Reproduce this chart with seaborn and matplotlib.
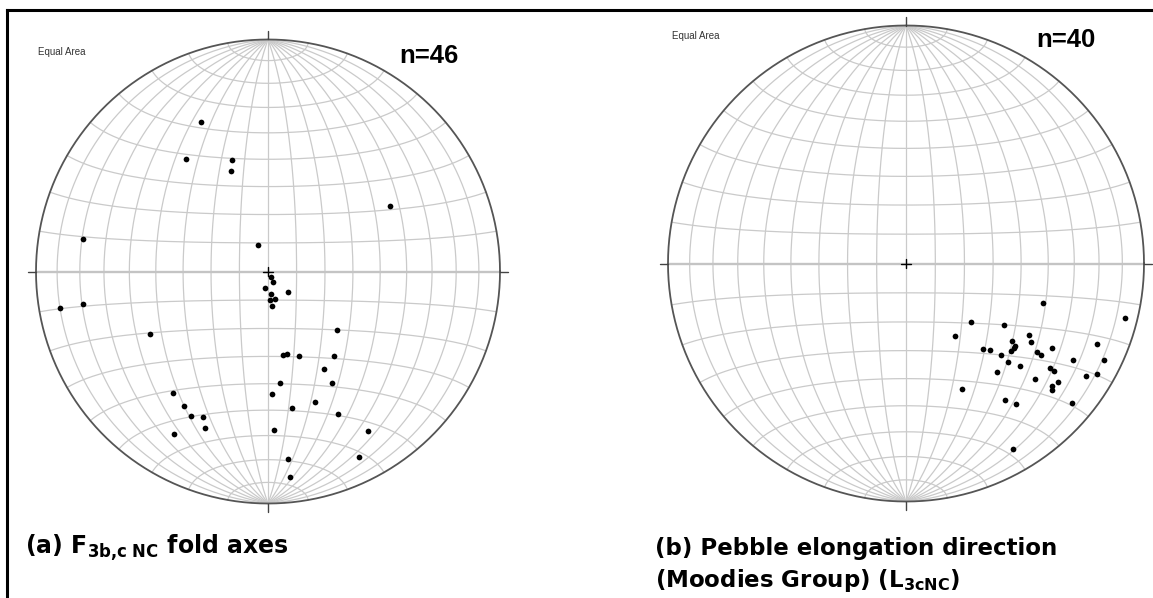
import numpy as np
import pandas as pd
import matplotlib
matplotlib.use("Agg")
import matplotlib.pyplot as plt
import seaborn as sns

# ---------------- data (trend / plunge, degrees) ----------------
fold_trend = [336, 324, 342, 340, 62, 280, 340, 151, 154, 190, 136, 173, 165, 175,
              173, 260, 260, 242, 130, 170, 167, 160, 142, 150, 174, 150, 218, 178,
              212, 170, 160, 208, 204, 154, 202, 210, 178, 148, 154, 174, 174]
fold_plunge = [30, 40, 48, 52, 40, 20, 80, 88, 86, 84, 80, 82, 80, 80,
               78, 10, 20, 42, 58, 60, 60, 58, 52, 50, 50, 44, 34, 46,
               32, 40, 40, 30, 32, 32, 28, 20, 32, 20, 12, 20, 12]

pebble_trend = [106, 104, 132, 122, 146, 120, 122, 126, 127, 113, 120, 138, 136, 128,
                130, 134, 124, 124, 120, 116, 134, 132, 126, 126, 140, 122, 120, 132,
                128, 130, 131, 156, 144, 142, 130, 150]
pebble_plunge = [40, 6, 60, 50, 60, 40, 38, 44, 42, 14, 30, 50, 48, 42,
                 42, 44, 34, 32, 20, 8, 40, 36, 26, 24, 40, 12, 8, 28,
                 20, 21, 20, 42, 30, 26, 10, 11]

count_labels = ["n=46", "n=40"]
net_label = "Equal Area"
caption_a = r"(a) F$_{\mathbf{3b{,}c\ NC}}$ fold axes"
caption_b1 = "(b) Pebble elongation direction"
caption_b2 = r"(Moodies Group) (L$_{\mathbf{3cNC}}$)"

# ---------------- style ----------------
sns.set_theme(style="white")
plt.rcParams['font.family'] = ['Liberation Sans', 'DejaVu Sans']
plt.rcParams['mathtext.fontset'] = 'dejavusans'
plt.rcParams['text.color'] = 'black'

W, H = 1153, 598
fig = plt.figure(figsize=(W / 100, H / 100), dpi=100)
fig.patch.set_facecolor('white')


def px(x, y):
    return x / W, 1 - y / H


GRID_C = '#cacaca'


def lambert(lon, lat):
    lon = np.radians(lon)
    lat = np.radians(lat)
    k = np.sqrt(2.0 / (1.0 + np.cos(lat) * np.cos(lon)))
    return k * np.cos(lat) * np.sin(lon) / np.sqrt(2), k * np.sin(lat) / np.sqrt(2)


def line_xy(trend, plunge):
    t = np.radians(np.asarray(trend, float))
    p = np.radians(np.asarray(plunge, float))
    r = np.sqrt(2) * np.sin((np.pi / 2 - p) / 2)
    return r * np.sin(t), r * np.cos(t)


def draw_net(ax):
    lat = np.linspace(-90, 90, 361)
    for lon in range(-80, 81, 10):
        x, y = lambert(np.full_like(lat, lon), lat)
        ax.plot(x, y, color=GRID_C, lw=0.9, zorder=1)
    lon = np.linspace(-90, 90, 361)
    for la in range(-80, 81, 10):
        x, y = lambert(lon, np.full_like(lon, la))
        ax.plot(x, y, color='#c4c4c4' if la == 0 else GRID_C,
                lw=1.7 if la == 0 else 0.9, zorder=1)
    th = np.linspace(0, 2 * np.pi, 721)
    ax.plot(np.cos(th), np.sin(th), color='#555555', lw=1.3, zorder=2)
    for a in np.radians([0, 90, 180, 270]):
        ax.plot([np.sin(a), 1.035 * np.sin(a)], [np.cos(a), 1.035 * np.cos(a)],
                color='#444444', lw=1.0, zorder=2)
    ax.plot([-0.02, 0.02], [0, 0], color='black', lw=1.0, zorder=3)
    ax.plot([0, 0], [-0.02, 0.02], color='black', lw=1.0, zorder=3)


def make_net_axes(cx, cy, R):
    half = R * 1.1
    left, bottom = (cx - half) / W, (H - cy - half) / H
    ax = fig.add_axes([left, bottom, 2 * half / W, 2 * half / H])
    ax.set_xlim(-1.1, 1.1)
    ax.set_ylim(-1.1, 1.1)
    ax.set_aspect('equal')
    ax.axis('off')
    return ax


# frame (top and left edge lines)
fax = fig.add_axes([7 / W, -0.05, 1.0, 1.05 - 10 / H])
fax.set_xticks([])
fax.set_yticks([])
fax.patch.set_alpha(0)
for s in ['right', 'bottom']:
    fax.spines[s].set_visible(False)
for s in ['left', 'top']:
    fax.spines[s].set_color('black')
    fax.spines[s].set_linewidth(2.2)

nets = [
    (268, 271.5, 232, fold_trend, fold_plunge),
    (906, 263.5, 238, pebble_trend, pebble_plunge),
]
for cx, cy, R, tr, pl in nets:
    ax = make_net_axes(cx, cy, R)
    draw_net(ax)
    x, y = line_xy(tr, pl)
    df = pd.DataFrame({'x': x, 'y': y})
    sns.scatterplot(data=df, x='x', y='y', ax=ax, color='black', s=17,
                    linewidth=0, legend=False, zorder=5)
    ax.set_xlabel('')
    ax.set_ylabel('')
    ax.axis('off')

# texts
fig.text(*px(38, 55), net_label, fontsize=7, color='#333333', va='baseline', ha='left')
fig.text(*px(672, 39), net_label, fontsize=7, color='#333333', va='baseline', ha='left')
fig.text(*px(399.5, 63), count_labels[0], fontsize=18.5, fontweight='bold',
         color='black', va='baseline', ha='left')
fig.text(*px(1036.5, 47), count_labels[1], fontsize=18.5, fontweight='bold',
         color='black', va='baseline', ha='left')

cap_font = ['DejaVu Sans']
fig.text(*px(25, 553.5), caption_a, fontsize=17, fontweight='bold', family=cap_font,
         color='black', va='baseline', ha='left')
fig.text(*px(655, 555), caption_b1, fontsize=16.5, fontweight='bold', family=cap_font,
         color='black', va='baseline', ha='left')
fig.text(*px(655, 587), caption_b2, fontsize=16.5, fontweight='bold', family=cap_font,
         color='black', va='baseline', ha='left')

fig.savefig('out.png', dpi=100, facecolor='white')
